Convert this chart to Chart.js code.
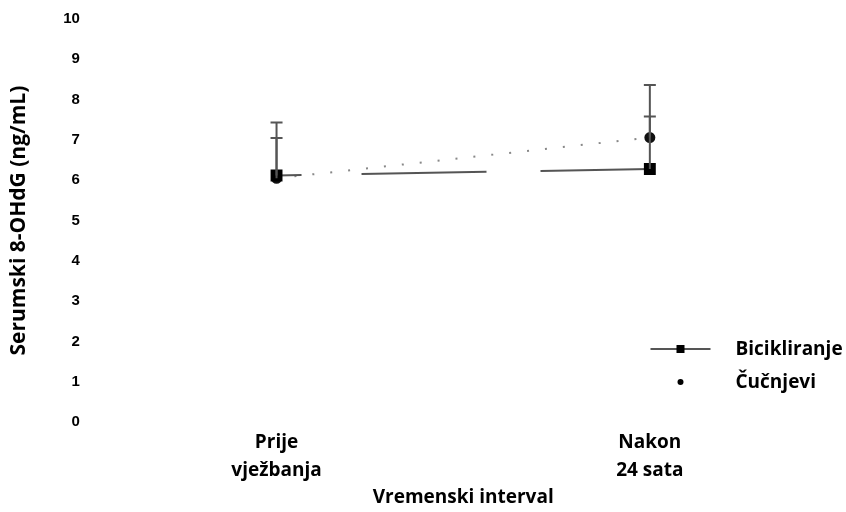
<!DOCTYPE html>
<html>
<head>
<meta charset="utf-8">
<script src="https://cdn.jsdelivr.net/npm/chart.js@4"></script>
<style>
html,body{margin:0;padding:0;background:#fff;}
#wrap{width:846px;height:512px;position:relative;}
</style>
</head>
<body>
<div id="wrap"><canvas id="c" width="846" height="512"></canvas></div>
<script>
const categories = [["Prije", "vježbanja"], ["Nakon", "24 sata"]];
const seriesNames = ["Bicikliranje", "Čučnjevi"];
const bicikliranje = [6.12, 6.28];
const cucnjevi = [6.05, 7.06];
const bicikliranjeSD = [1.31, 1.30];
const cucnjeviSD = [1.00, 1.30];
const yTicks = [0, 1, 2, 3, 4, 5, 6, 7, 8, 9, 10];

const FONT = "'Open Sans', 'Liberation Sans', sans-serif";

const errorBars = {
  id: 'errorBars',
  afterDatasetsDraw(chart) {
    const ctx = chart.ctx;
    const y = chart.scales.y;
    chart.data.datasets.forEach((ds, di) => {
      const meta = chart.getDatasetMeta(di);
      ds.sd.forEach((sd, i) => {
        const pt = meta.data[i];
        const yTop = y.getPixelForValue(ds.data[i].y + sd);
        const yBase = y.getPixelForValue(ds.data[i].y);
        ctx.save();
        ctx.strokeStyle = '#555';
        ctx.lineWidth = 2;
        ctx.beginPath();
        ctx.moveTo(pt.x, yBase);
        ctx.lineTo(pt.x, yTop);
        ctx.moveTo(pt.x - 6, yTop);
        ctx.lineTo(pt.x + 6, yTop);
        ctx.stroke();
        ctx.restore();
      });
    });
  }
};

const customLegend = {
  id: 'customLegend',
  afterDraw(chart) {
    const ctx = chart.ctx;
    const ca = chart.chartArea;
    const x0 = ca.right - 186, x1 = ca.right - 126, xm = (x0 + x1) / 2;
    const tx = ca.right - 101;
    const rows = [349, 382];
    ctx.save();
    ctx.font = "bold 19px " + FONT;
    ctx.textBaseline = 'middle';
    ctx.fillStyle = '#000';
    chart.data.datasets.forEach((ds, i) => {
      const yy = rows[i];
      if (i === 0) {
        ctx.strokeStyle = '#555';
        ctx.lineWidth = 2;
        ctx.beginPath();
        ctx.moveTo(x0, yy); ctx.lineTo(x1, yy); ctx.stroke();
        ctx.fillStyle = '#000';
        ctx.fillRect(xm - 4, yy - 4, 8, 8);
      } else {
        ctx.fillStyle = '#000';
        ctx.beginPath(); ctx.arc(xm, yy, 3, 0, Math.PI * 2); ctx.fill();
      }
      ctx.fillStyle = '#000';
      ctx.fillText(ds.label, tx, yy + 1);
    });
    ctx.restore();
  }
};

new Chart(document.getElementById('c'), {
  type: 'line',
  data: {
    datasets: [
      {
        label: seriesNames[0],
        data: bicikliranje.map((v, i) => ({x: i, y: v})),
        sd: bicikliranjeSD,
        borderColor: '#555',
        borderWidth: 2,
        borderDash: [25, 60, 125, 54, 125, 10],
        pointStyle: 'rect',
        pointRadius: 7,
        pointBackgroundColor: '#000',
        pointBorderColor: '#000',
        fill: false,
        tension: 0
      },
      {
        label: seriesNames[1],
        data: cucnjevi.map((v, i) => ({x: i, y: v})),
        sd: cucnjeviSD,
        borderColor: '#888',
        borderWidth: 2,
        borderDash: [2, 16],
        pointStyle: 'circle',
        pointRadius: 4.5,
        pointBackgroundColor: '#111',
        pointBorderColor: '#111',
        fill: false,
        tension: 0
      }
    ]
  },
  options: {
    responsive: false,
    animation: false,
    layout: {padding: {top: 19, right: 9.5, left: 0, bottom: 0}},
    plugins: {legend: {display: false}, tooltip: {enabled: false}},
    scales: {
      x: {
        type: 'linear',
        min: -0.5,
        max: 1.5,
        grid: {display: false, drawTicks: false},
        border: {display: false},
        afterBuildTicks(scale) { scale.ticks = categories.map((c, i) => ({value: i})); },
        ticks: {
          autoSkip: false,
          maxRotation: 0,
          padding: 6,
          color: '#000',
          font: {family: FONT, size: 19, weight: 'bold', lineHeight: 1.5},
          callback: (v) => categories[v]
        },
        title: {
          display: true,
          text: 'Vremenski interval',
          color: '#000',
          font: {family: FONT, size: 19, weight: 'bold'},
          padding: {top: -5, bottom: 3}
        }
      },
      y: {
        min: 0,
        max: 10,
        grid: {display: false, drawTicks: false},
        border: {display: false},
        afterBuildTicks(scale) { scale.ticks = yTicks.map(v => ({value: v})); },
        ticks: {
          padding: 10,
          color: '#000',
          font: {family: "'Liberation Sans', Arial, sans-serif", size: 15, weight: 'bold'}
        },
        title: {
          display: true,
          text: 'Serumski 8-OHdG (ng/mL)',
          color: '#000',
          font: {family: FONT, size: 21, weight: 'bold'},
          padding: {top: 6, bottom: 22}
        }
      }
    }
  },
  plugins: [errorBars, customLegend]
});
</script>
</body>
</html>
